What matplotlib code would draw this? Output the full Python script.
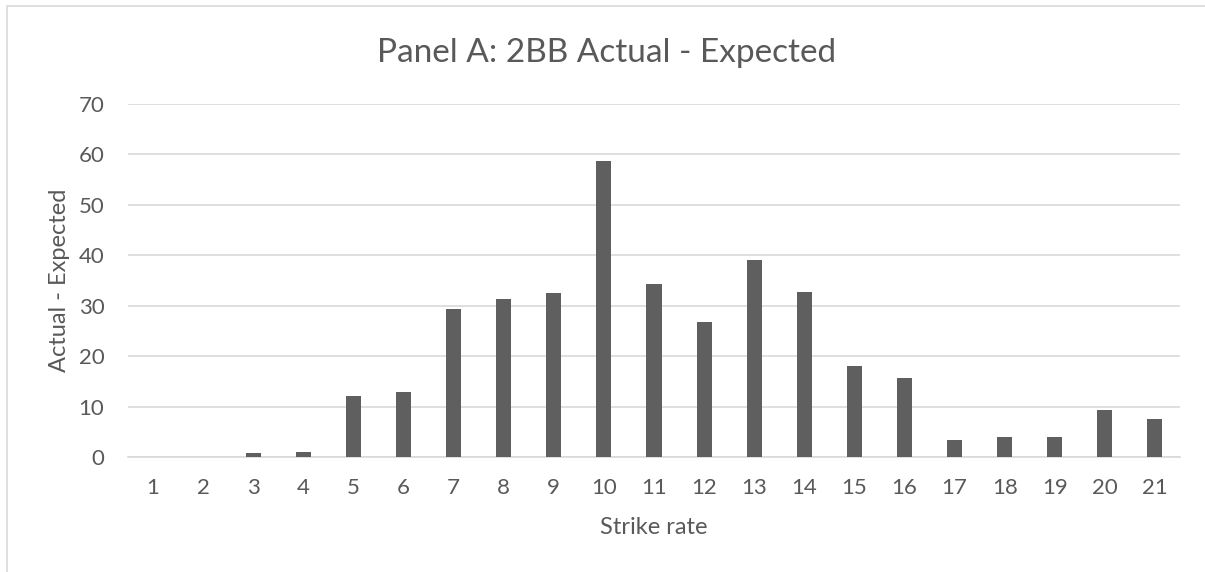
import numpy as np
import matplotlib.pyplot as plt
from matplotlib.patches import Rectangle

# strike rate buckets and actual - expected values
strike_rate = [str(i) for i in range(1, 22)]
actual_minus_expected = [0.0, 0.0, 0.7, 0.9, 12.1, 12.9, 29.4, 31.3, 32.5, 58.7, 34.3,
                         26.7, 39.0, 32.7, 18.0, 15.6, 3.4, 3.9, 3.9, 9.3, 7.6]
y_ticks = [0, 10, 20, 30, 40, 50, 60, 70]

plt.rcParams['font.family'] = ['Lato', 'DejaVu Sans']
txt_color = '#595959'

fig = plt.figure(figsize=(12.05, 5.72), dpi=100)
ax = fig.add_axes([128 / 1205, 1 - 457 / 572, (1180 - 128) / 1205, (457 - 104) / 572])

# chart border (cropped, only top and left visible)
fig.patches.append(Rectangle((7 / 1205, -0.1), 1.2, 1 - 6 / 572 + 0.1, transform=fig.transFigure,
                             fill=False, edgecolor='#d9d9d9', linewidth=1.2))

x = np.arange(len(strike_rate))
ax.bar(x, actual_minus_expected, width=0.3, color='#5f5f5f', zorder=3)

ax.set_xlim(-0.5, len(strike_rate) - 0.5)
ax.set_ylim(0, 70)
ax.set_yticks(y_ticks)
ax.set_xticks(x)
ax.set_xticklabels(strike_rate)
ax.grid(axis='y', color='#d9d9d9', linewidth=1.2, zorder=0)
for s in ['top', 'right', 'left']:
    ax.spines[s].set_visible(False)
ax.spines['bottom'].set_color('#d9d9d9')
ax.spines['bottom'].set_linewidth(1.2)
ax.tick_params(axis='both', length=0, labelsize=16, colors=txt_color)
ax.tick_params(axis='y', pad=17)
ax.tick_params(axis='x', pad=15)

fig.text(607 / 1205, 1 - 62 / 572, 'Panel A: 2BB Actual - Expected', fontsize=24,
         color=txt_color, ha='center', va='baseline')
ax.set_xlabel('Strike rate', fontsize=17, color=txt_color, labelpad=14)
ax.set_ylabel('Actual - Expected', fontsize=17, color=txt_color, labelpad=6)

fig.savefig('out.png', dpi=100)
